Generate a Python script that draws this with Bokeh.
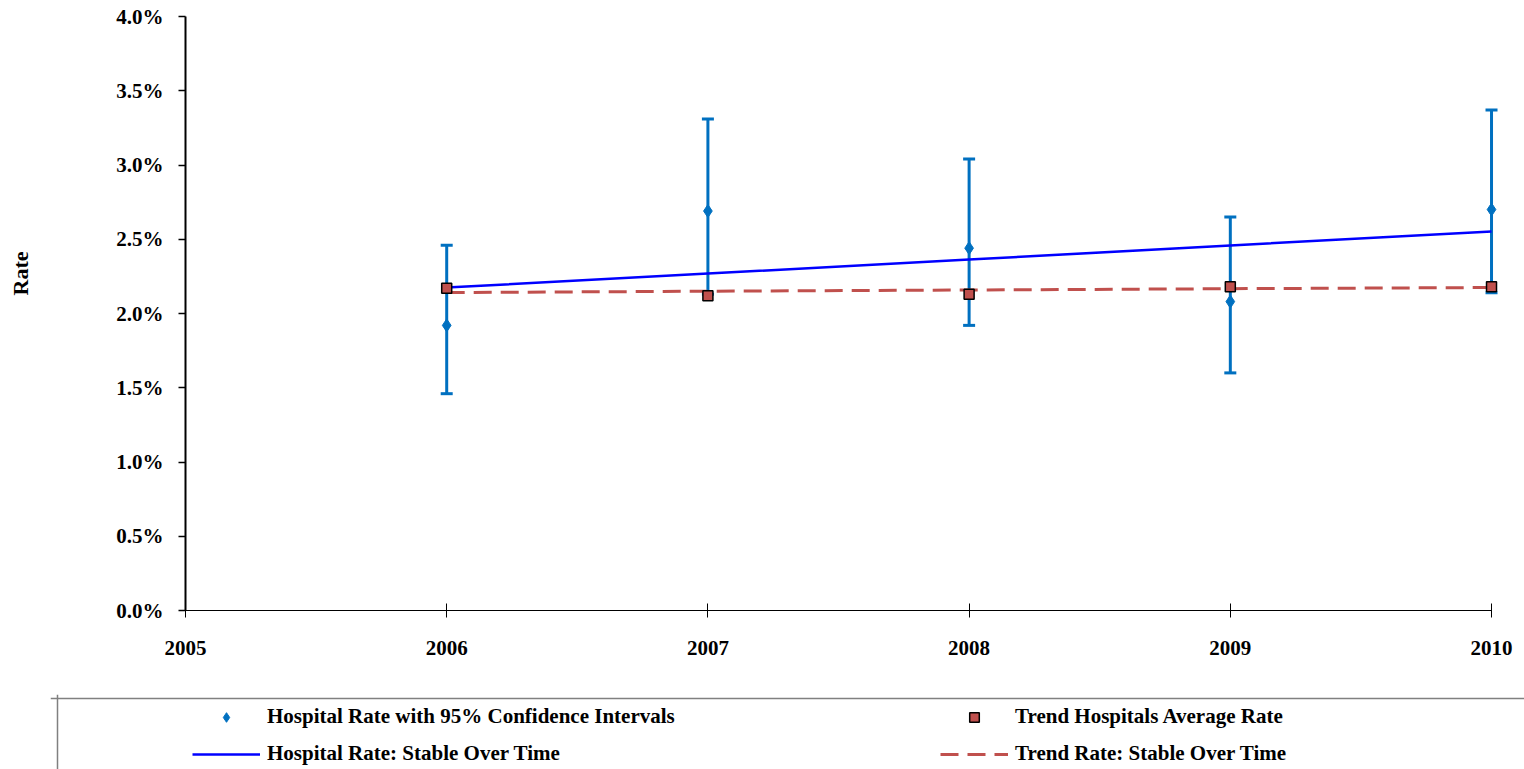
import math
from bokeh.plotting import figure
from bokeh.models import (Range1d, FixedTicker, ColumnDataSource, Whisker, TeeHead,
                          Legend, LegendItem, Span, Title)
from bokeh.embed import file_html
from bokeh.resources import INLINE

# ---------------- data ----------------
years = [2006, 2007, 2008, 2009, 2010]
hosp_rate = [1.92, 2.69, 2.44, 2.08, 2.70]
hosp_upper = [2.46, 3.31, 3.04, 2.65, 3.37]
hosp_lower = [1.46, 2.13, 1.92, 1.60, 2.14]
trend_avg = [2.17, 2.12, 2.13, 2.18, 2.18]
hosp_fit = [2.175, 2.269, 2.363, 2.458, 2.552]
trend_fit = [2.141, 2.150, 2.158, 2.167, 2.175]

x_ticks = [2005, 2006, 2007, 2008, 2009, 2010]
y_ticks = [0.0, 0.5, 1.0, 1.5, 2.0, 2.5, 3.0, 3.5, 4.0]
y_tick_labels = ["0.0%", "0.5%", "1.0%", "1.5%", "2.0%", "2.5%", "3.0%", "3.5%", "4.0%"]

labels = ["Hospital Rate with 95% Confidence Intervals", "Hospital Rate: Stable Over Time",
          "Trend Hospitals Average Rate", "Trend Rate: Stable Over Time"]

FONT = "Liberation Serif"
FS = "21px"
BLUE_PT = "#0070C0"
RED = "#C0504D"

# ---------------- main chart ----------------
p = figure(width=1516, height=692, x_range=Range1d(2005, 2010.0765), y_range=Range1d(0, 4),
           output_backend="svg", toolbar_location=None,
           min_border_left=183, min_border_right=5, min_border_top=16, min_border_bottom=82)
p.outline_line_color = None
p.grid.visible = False

p.xaxis.ticker = FixedTicker(ticks=x_ticks)
p.yaxis.ticker = FixedTicker(ticks=y_ticks)
p.xaxis.bounds = (x_ticks[0], x_ticks[-1])
p.yaxis.major_label_overrides = {t: l for t, l in zip(y_ticks, y_tick_labels)}
p.xaxis.major_label_overrides = {t: str(t) for t in x_ticks}
for ax in (p.xaxis, p.yaxis):
    ax.major_label_text_font = FONT
    ax.major_label_text_font_style = "bold"
    ax.major_label_text_font_size = FS
    ax.major_label_text_color = "black"
    ax.axis_line_color = "black"
    ax.major_tick_line_color = "black"
    ax.minor_tick_line_color = None
p.yaxis.axis_line_width = 2
p.yaxis.major_tick_in = 0
p.yaxis.major_tick_out = 7
p.yaxis.major_tick_line_width = 1.5
p.yaxis.major_label_standoff = 15
p.yaxis.axis_label = " "
p.yaxis.axis_label_standoff = 50
p.yaxis.axis_label_text_font_size = FS
p.xaxis.axis_line_width = 1
p.xaxis.major_tick_in = 7
p.xaxis.major_tick_out = 7
p.xaxis.major_tick_line_width = 1
p.xaxis.major_label_standoff = 23

src = ColumnDataSource(dict(x=years, rate=hosp_rate, up=hosp_upper, lo=hosp_lower,
                            avg=trend_avg, hfit=hosp_fit, tfit=trend_fit))

p.line("x", "tfit", source=src, line_color=RED, line_width=3, line_dash="18 9")
p.line("x", "hfit", source=src, line_color="#0000FF", line_width=2.5)

wh = Whisker(source=src, base="x", upper="up", lower="lo", line_color=BLUE_PT, line_width=3,
             upper_head=TeeHead(size=12, line_color=BLUE_PT, line_width=3),
             lower_head=TeeHead(size=12, line_color=BLUE_PT, line_width=3))
p.add_layout(wh)

p.scatter("x", "rate", source=src, marker="diamond", size=13, color=BLUE_PT)
p.scatter("x", "avg", source=src, marker="square", size=10, fill_color=RED,
          line_color="black", line_width=1.5)

p.add_layout(Title(text="Rate", align="left", offset=315, text_font=FONT,
                   text_font_style="bold", text_font_size="22px", text_color="black"), "left")

# ---------------- legend panel ----------------
q = figure(width=1524, height=77, x_range=Range1d(0, 1474), y_range=Range1d(0, 75),
           output_backend="svg", toolbar_location=None,
           x_axis_location=None, y_axis_location=None,
           min_border_left=50, min_border_right=0, min_border_top=2, min_border_bottom=0)
q.outline_line_color = None
q.grid.visible = False
q.add_layout(Span(location=7, dimension="height", line_color="#808080", line_width=1.5))
q.add_layout(Span(location=71, dimension="width", line_color="#808080", line_width=1.5))

r1 = q.scatter([-100], [-100], marker="diamond", size=13, color=BLUE_PT)
r2 = q.line([-100, -90], [-100, -100], line_color="#0000FF", line_width=2.5)
r3 = q.scatter([-100], [-100], marker="square", size=10, fill_color=RED, line_color="black",
               line_width=1.5)
r4 = q.line([-100, -90], [-100, -100], line_color=RED, line_width=3, line_dash="18 9")


def make_legend(items, vx):
    return Legend(items=items, location=(vx, 3), orientation="vertical",
                  glyph_width=68, glyph_height=24, label_height=24, label_standoff=7,
                  spacing=12, padding=0, margin=0, border_line_color=None,
                  background_fill_alpha=0,
                  label_text_font=FONT, label_text_font_style="bold",
                  label_text_font_size=FS, label_text_color="black")


q.add_layout(make_legend([LegendItem(label=labels[0], renderers=[r1]),
                          LegendItem(label=labels[1], renderers=[r2])], 142))
q.add_layout(make_legend([LegendItem(label=labels[2], renderers=[r3]),
                          LegendItem(label=labels[3], renderers=[r4])], 890))

open("out.html", "w").write(file_html([p, q], INLINE))
